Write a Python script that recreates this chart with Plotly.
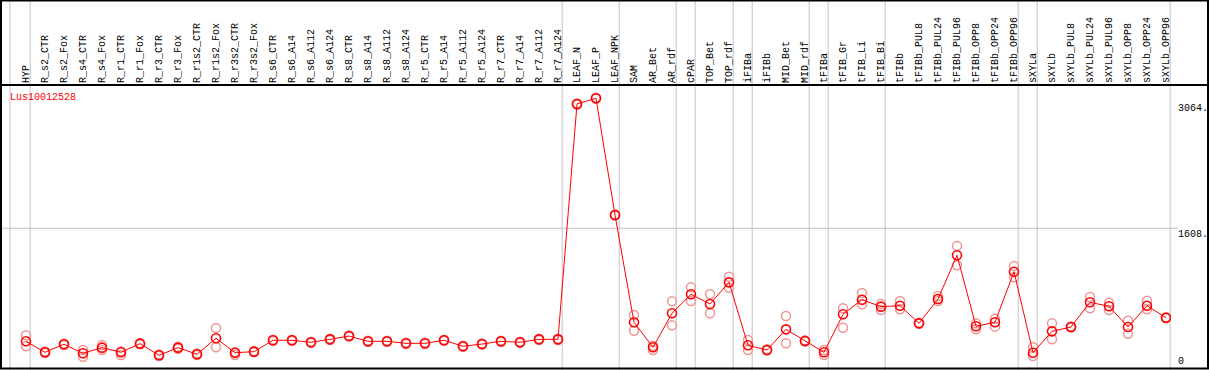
import plotly.graph_objects as go

categories = ["HYP", "R_s2_CTR", "R_s2_Fox", "R_s4_CTR", "R_s4_Fox", "R_r1_CTR", "R_r1_Fox",
              "R_r3_CTR", "R_r3_Fox", "R_r1s2_CTR", "R_r1s2_Fox", "R_r3s2_CTR", "R_r3s2_Fox",
              "R_s6_CTR", "R_s6_A14", "R_s6_A112", "R_s6_A124", "R_s8_CTR", "R_s8_A14",
              "R_s8_A112", "R_s8_A124", "R_r5_CTR", "R_r5_A14", "R_r5_A112", "R_r5_A124",
              "R_r7_CTR", "R_r7_A14", "R_r7_A112", "R_r7_A124", "LEAF_N", "LEAF_P", "LEAF_NPK",
              "SAM", "AR_Bet", "AR_rdf", "cPAR", "TOP_Bet", "TOP_rdf", "iFIBa", "iFIBb",
              "MID_Bet", "MID_rdf", "tFIBa", "tFIB_Gr", "tFIB_Li", "tFIB_Bi", "tFIBb",
              "tFIBb_PUL8", "tFIBb_PUL24", "tFIBb_PUL96", "tFIBb_OPP8", "tFIBb_OPP24",
              "tFIBb_OPP96", "sXYLa", "sXYLb", "sXYLb_PUL8", "sXYLb_PUL24", "sXYLb_PUL96",
              "sXYLb_OPP8", "sXYLb_OPP24", "sXYLb_OPP96"]

mean_values = [307, 181, 273, 169, 234, 181, 280, 146, 234, 158, 342, 176, 188, 319, 319,
               296, 330, 368, 307, 307, 284, 284, 319, 250, 276, 307, 296, 330, 330,
               3039, 3104, 1761,
               526, 238, 630, 848, 737, 986, 261, 207, 445, 311, 181, 618, 786, 706,
               717, 514, 794, 1297, 480, 526, 1108, 176, 422, 472, 756, 710, 472, 717, 579]

rep_a = [376, 190, 280, 207, 265, 190, 288, 155, 245, 166, 460, 180, 195, 326, 326,
         303, 337, 375, 314, 314, 291, 291, 326, 257, 283, 314, 303, 337, 337,
         3045, 3110, 1768,
         610, 257, 768, 929, 848, 1051, 322, 215, 598, 318, 207, 687, 863, 737,
         771, 520, 829, 1404, 514, 568, 1174, 238, 514, 478, 817, 752, 545, 775, 585]

rep_b = [250, 172, 265, 130, 207, 150, 272, 138, 222, 150, 238, 150, 180, 312, 312,
         289, 323, 361, 300, 300, 277, 277, 312, 243, 269, 300, 289, 323, 323,
         3030, 3098, 1755,
         429, 207, 491, 771, 630, 924, 207, 200, 284, 305, 150, 464, 733, 668,
         675, 508, 771, 1182, 445, 476, 1044, 138, 330, 466, 687, 668, 395, 675, 573]

# categories after which a grey separator is drawn
group_ends = ["HYP", "R_r7_A124", "LEAF_NPK", "AR_rdf", "cPAR", "TOP_rdf", "iFIBa",
              "MID_rdf", "tFIBa", "tFIB_Bi", "tFIBb_OPP96", "sXYLa", "sXYLb_OPP96"]

y_ticks = [0, 1608, 3064]
y_tick_text = ["0", "1608.", "3064."]
gene = "Lus10012528"

# ---- layout geometry (pixels) ----
W, H = 1209, 370
L, R, T, B = 1, 38, 85, 2
pw, ph = W - L - R, H - T - B
XMIN, XMAX = -1.316, 60.263
YMIN, YMAX = 0, 3257

def px_x(px):
    return (px - L) / pw

def px_y(py):
    return (H - B - py) / ph

def data_x(v):
    return (v - XMIN) / (XMAX - XMIN)

def data_y(v):
    return (v - YMIN) / (YMAX - YMIN)

xs = list(range(len(categories)))
FONT = "Liberation Mono"

fig = go.Figure()
fig.add_trace(go.Scatter(x=xs, y=rep_a, mode="markers",
                         marker=dict(symbol="circle-open", size=9, color="rgb(240,150,150)",
                                     line=dict(width=1.5)),
                         hoverinfo="skip", showlegend=False))
fig.add_trace(go.Scatter(x=xs, y=rep_b, mode="markers",
                         marker=dict(symbol="circle-open", size=9, color="rgb(240,150,150)",
                                     line=dict(width=1.5)),
                         hoverinfo="skip", showlegend=False))
fig.add_trace(go.Scatter(x=xs, y=mean_values, mode="lines+markers",
                         line=dict(color="#ff0000", width=1),
                         marker=dict(symbol="circle-open", size=9, color="#ff0000",
                                     line=dict(width=1.6)),
                         showlegend=False))

shapes = []
grey = "#c4c4c4"
# separators (full height)
sep_x = [px_x(10)] + [data_x(categories.index(c) + 0.22) for c in group_ends]
for sx in sep_x:
    shapes.append(dict(type="line", xref="paper", yref="paper", x0=sx, x1=sx,
                       y0=px_y(H), y1=px_y(0), line=dict(color=grey, width=1), layer="below"))
# horizontal grid at middle tick
shapes.append(dict(type="line", xref="paper", yref="paper", x0=px_x(0), x1=px_x(1178),
                   y0=data_y(y_ticks[1]), y1=data_y(y_ticks[1]),
                   line=dict(color=grey, width=1), layer="below"))
# header line and frame
shapes.append(dict(type="line", xref="paper", yref="paper", x0=px_x(0), x1=px_x(W),
                   y0=px_y(85), y1=px_y(85), line=dict(color="black", width=2)))
shapes.append(dict(type="rect", xref="paper", yref="paper", x0=px_x(1), x1=px_x(W - 1),
                   y0=px_y(H - 1.5), y1=px_y(0.5), line=dict(color="black", width=2)))

annotations = []
for i, c in enumerate(categories):
    annotations.append(dict(x=i, y=px_y(84), xref="x", yref="paper", text=c,
                            textangle=-90, showarrow=False, xanchor="center", yanchor="bottom",
                            font=dict(family=FONT, size=10, color="black"), borderpad=0))
for v, t in zip(y_ticks, y_tick_text):
    annotations.append(dict(x=px_x(1177), y=data_y(v), xref="paper", yref="paper", text=t,
                            showarrow=False, xanchor="left",
                            yanchor="bottom" if v == 0 else "top",
                            font=dict(family=FONT, size=10, color="black"), borderpad=0))
annotations.append(dict(x=px_x(9), y=px_y(91), xref="paper", yref="paper", text=gene,
                        showarrow=False, xanchor="left", yanchor="top",
                        font=dict(family=FONT, size=10, color="#ff0000"), borderpad=0))

fig.update_layout(
    width=W, height=H, margin=dict(l=L, r=R, t=T, b=B, pad=0),
    paper_bgcolor="white", plot_bgcolor="white",
    xaxis=dict(range=[XMIN, XMAX], showgrid=False, zeroline=False, showticklabels=False,
               showline=False, ticks=""),
    yaxis=dict(range=[YMIN, YMAX], showgrid=False, zeroline=False, showticklabels=False,
               showline=False, ticks=""),
    shapes=shapes, annotations=annotations, showlegend=False,
)

fig.write_html("out.html", config={"displayModeBar": False},
               post_script="document.body.style.margin='0';document.body.style.overflow='hidden';")
